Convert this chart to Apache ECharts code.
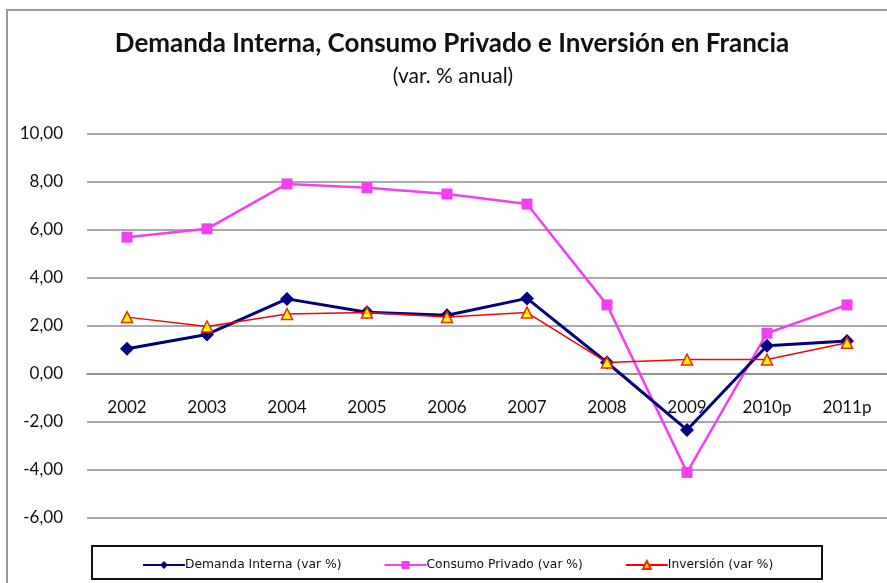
<!DOCTYPE html>
<html>
<head>
<meta charset="utf-8">
<style>
  html, body { margin: 0; padding: 0; background: #fff; }
  #chart { width: 887px; height: 583px; }
</style>
<script src="https://cdn.jsdelivr.net/npm/echarts@6/dist/echarts.min.js"></script>
</head>
<body>
<div id="chart"></div>
<script>
const years = ["2002", "2003", "2004", "2005", "2006", "2007", "2008", "2009", "2010p", "2011p"];
const demandaInterna = [1.05, 1.65, 3.13, 2.57, 2.45, 3.15, 0.48, -2.33, 1.18, 1.38];
const consumoPrivado = [5.7, 6.05, 7.92, 7.76, 7.5, 7.08, 2.88, -4.1, 1.7, 2.88];
const inversion = [2.37, 1.98, 2.5, 2.56, 2.37, 2.56, 0.48, 0.6, 0.6, 1.3];

const chart = echarts.init(document.getElementById("chart"));

const gridColor = "#8c8c8c";

const option = {
  animation: false,
  backgroundColor: "#ffffff",
  graphic: [
    {
      type: "rect",
      shape: { x: 7, y: 10, width: 900, height: 600 },
      style: { fill: "none", stroke: "#9a9a9a", lineWidth: 2 },
      z: -1,
    },
    {
      type: "text",
      x: 452,
      y: 44,
      style: {
        text: "Demanda Interna, Consumo Privado e Inversión en Francia",
        font: "bold 26px Lato",
        fill: "#111",
        align: "center",
        verticalAlign: "middle",
      },
    },
    {
      type: "text",
      x: 453,
      y: 76,
      style: {
        text: "(var. % anual)",
        font: "21px Lato",
        fill: "#111",
        align: "center",
        verticalAlign: "middle",
      },
    },
    {
      type: "rect",
      shape: { x: 92, y: 546, width: 730, height: 33 },
      style: { fill: "none", stroke: "#111", lineWidth: 2 },
    },
  ],
  legend: {
    top: 554,
    left: 137,
    itemWidth: 42,
    itemHeight: 10,
    itemGap: 42,
    textStyle: { fontFamily: "DejaVu Sans", fontSize: 12.3, color: "#111", padding: [0, 0, 0, -5] },
    data: ["Demanda Interna (var %)", "Consumo Privado (var %)", "Inversión (var %)"],
  },
  grid: {
    left: 87,
    right: -11,
    top: 134,
    bottom: 65,
  },
  xAxis: {
    type: "category",
    data: years,
    position: "bottom",
    offset: -144,
    axisLine: { onZero: false, lineStyle: { color: gridColor, width: 1.5 } },
    axisTick: { show: false },
    axisLabel: { margin: 25, fontFamily: "Lato", fontSize: 17, color: "#111" },
    splitLine: { show: false },
  },
  yAxis: {
    type: "value",
    min: -6,
    max: 10,
    interval: 2,
    axisLine: { show: false },
    axisTick: { show: false },
    axisLabel: {
      margin: 24,
      fontFamily: "Lato",
      fontSize: 17,
      color: "#111",
      formatter: (v) => v.toFixed(2).replace(".", ","),
    },
    splitLine: { lineStyle: { color: gridColor, width: 1.5 } },
  },
  series: [
    {
      name: "Demanda Interna (var %)",
      type: "line",
      data: demandaInterna,
      symbol: "diamond",
      symbolSize: 14,
      color: "#000080",
      lineStyle: { width: 3, color: "#000080" },
      itemStyle: { color: "#000080" },
      z: 3,
    },
    {
      name: "Consumo Privado (var %)",
      type: "line",
      data: consumoPrivado,
      symbol: "rect",
      symbolSize: 11,
      color: "#f33ff3",
      lineStyle: { width: 2.5, color: "#f33ff3" },
      itemStyle: { color: "#f33ff3" },
      z: 2,
    },
    {
      name: "Inversión (var %)",
      type: "line",
      data: inversion,
      symbol: "triangle",
      symbolSize: 11,
      color: "#ff0000",
      lineStyle: { width: 1.5, color: "#ff0000" },
      itemStyle: { color: "#ffff00", borderColor: "#ff2200", borderWidth: 1.5 },
      z: 4,
    },
  ],
};

chart.setOption(option);
</script>
</body>
</html>
